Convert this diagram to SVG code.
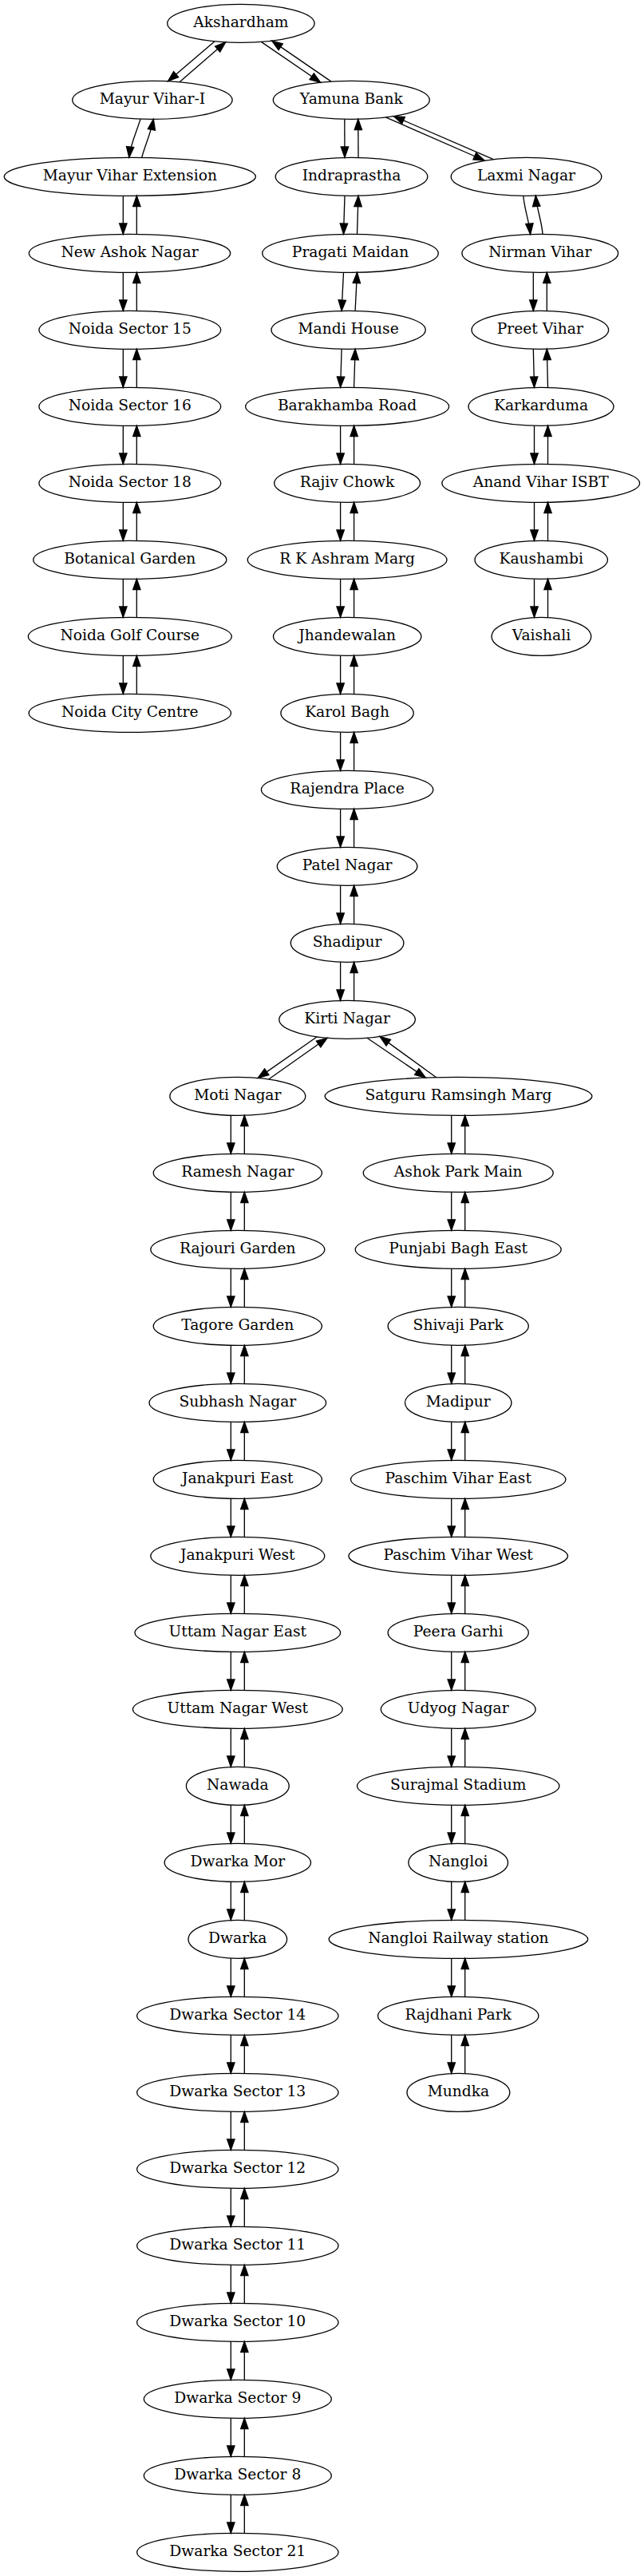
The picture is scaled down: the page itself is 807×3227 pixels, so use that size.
<svg xmlns="http://www.w3.org/2000/svg" width="807" height="3227" viewBox="0 0 807 3227">
<style>
ellipse{fill:none;stroke:#000;stroke-width:1.33}
text{font-family:"DejaVu Serif","Liberation Serif",serif;font-size:18.67px;text-anchor:middle;fill:#000}
.e{fill:none;stroke:#000;stroke-width:1.33;marker-end:url(#ah)}
</style>
<defs>
<marker id="ah" markerUnits="userSpaceOnUse" markerWidth="16" markerHeight="12" refX="13.33" refY="4.67" orient="auto" overflow="visible">
<path d="M0,0 L13.33,4.67 L0,9.33 Z" fill="#000" stroke="#000" stroke-width="1.33"/>
</marker>
</defs>
<rect width="807" height="3227" fill="#fff"/>
<g id="edges">
<path class="e" d="M269,51.7 L210.5,101.8"/>
<path class="e" d="M225,102.8 L282.7,52.8"/>
<path class="e" d="M327.3,52.4 L401.7,103.3"/>
<path class="e" d="M415,102.1 L340.7,51.1"/>
<path class="e" d="M483.3,146.9 L607,201"/>
<path class="e" d="M618.3,199.7 L493.3,145.5"/>
<path class="e" d="M176,149.1 C172,163 163.5,180 161.8,197.3"/>
<path class="e" d="M177.7,197.4 C181,184 189,167 192.3,149.3"/>
<path class="e" d="M655.8,245.3 C657,262 663,276 664.6,293.5"/>
<path class="e" d="M680,293.4 C679,277 672.5,262 671.3,245.1"/>
<path class="e" d="M154.3,245.33 L154.3,293.33"/><path class="e" d="M171.3,293.33 L171.3,245.33"/>
<path class="e" d="M154.3,341.33 L154.3,389.33"/><path class="e" d="M171.3,389.33 L171.3,341.33"/>
<path class="e" d="M154.3,437.33 L154.3,485.33"/><path class="e" d="M171.3,485.33 L171.3,437.33"/>
<path class="e" d="M154.3,533.33 L154.3,581.33"/><path class="e" d="M171.3,581.33 L171.3,533.33"/>
<path class="e" d="M154.3,629.33 L154.3,677.33"/><path class="e" d="M171.3,677.33 L171.3,629.33"/>
<path class="e" d="M154.3,725.33 L154.3,773.33"/><path class="e" d="M171.3,773.33 L171.3,725.33"/>
<path class="e" d="M154.3,821.33 L154.3,869.33"/><path class="e" d="M171.3,869.33 L171.3,821.33"/>
<path class="e" d="M431.8,149.33 L432,197.33"/><path class="e" d="M449,197.33 L448.8,149.33"/>
<path class="e" d="M432,245.33 L430.5,293.33"/><path class="e" d="M447.5,293.33 L449,245.33"/>
<path class="e" d="M430.5,341.33 L428.1,389.33"/><path class="e" d="M445.1,389.33 L447.5,341.33"/>
<path class="e" d="M428.1,437.33 L426.6,485.33"/><path class="e" d="M443.6,485.33 L445.1,437.33"/>
<path class="e" d="M426.6,533.33 L426.6,581.33"/><path class="e" d="M443.6,581.33 L443.6,533.33"/>
<path class="e" d="M426.6,629.33 L426.6,677.33"/><path class="e" d="M443.6,677.33 L443.6,629.33"/>
<path class="e" d="M426.6,725.33 L426.6,773.33"/><path class="e" d="M443.6,773.33 L443.6,725.33"/>
<path class="e" d="M426.6,821.33 L426.6,869.33"/><path class="e" d="M443.6,869.33 L443.6,821.33"/>
<path class="e" d="M426.6,917.33 L426.6,965.33"/><path class="e" d="M443.6,965.33 L443.6,917.33"/>
<path class="e" d="M426.6,1013.33 L426.6,1061.33"/><path class="e" d="M443.6,1061.33 L443.6,1013.33"/>
<path class="e" d="M426.6,1109.33 L426.6,1157.33"/><path class="e" d="M443.6,1157.33 L443.6,1109.33"/>
<path class="e" d="M426.6,1205.33 L426.6,1253.33"/><path class="e" d="M443.6,1253.33 L443.6,1205.33"/>
<path class="e" d="M668.3,341.33 L668.3,389.33"/><path class="e" d="M685.3,389.33 L685.3,341.33"/>
<path class="e" d="M668.3,437.33 L669.5,485.33"/><path class="e" d="M686.5,485.33 L685.3,437.33"/>
<path class="e" d="M669.5,533.33 L669.5,581.33"/><path class="e" d="M686.5,581.33 L686.5,533.33"/>
<path class="e" d="M669.5,629.33 L669.5,677.33"/><path class="e" d="M686.5,677.33 L686.5,629.33"/>
<path class="e" d="M669.5,725.33 L669.5,773.33"/><path class="e" d="M686.5,773.33 L686.5,725.33"/>
<path class="e" d="M397.3,1298.8 L323.3,1350.4"/>
<path class="e" d="M336.7,1352 L410,1300.3"/>
<path class="e" d="M460,1300.3 L533.3,1350.1"/>
<path class="e" d="M546.7,1349.7 L476,1298.4"/>
<path class="e" d="M289.3,1397.33 L289.3,1445.33"/><path class="e" d="M306.3,1445.33 L306.3,1397.33"/>
<path class="e" d="M289.3,1493.33 L289.3,1541.33"/><path class="e" d="M306.3,1541.33 L306.3,1493.33"/>
<path class="e" d="M289.3,1589.33 L289.3,1637.33"/><path class="e" d="M306.3,1637.33 L306.3,1589.33"/>
<path class="e" d="M289.3,1685.33 L289.3,1733.33"/><path class="e" d="M306.3,1733.33 L306.3,1685.33"/>
<path class="e" d="M289.3,1781.33 L289.3,1829.33"/><path class="e" d="M306.3,1829.33 L306.3,1781.33"/>
<path class="e" d="M289.3,1877.33 L289.3,1925.33"/><path class="e" d="M306.3,1925.33 L306.3,1877.33"/>
<path class="e" d="M289.3,1973.33 L289.3,2021.33"/><path class="e" d="M306.3,2021.33 L306.3,1973.33"/>
<path class="e" d="M289.3,2069.33 L289.3,2117.33"/><path class="e" d="M306.3,2117.33 L306.3,2069.33"/>
<path class="e" d="M289.3,2165.33 L289.3,2213.33"/><path class="e" d="M306.3,2213.33 L306.3,2165.33"/>
<path class="e" d="M289.3,2261.33 L289.3,2309.33"/><path class="e" d="M306.3,2309.33 L306.3,2261.33"/>
<path class="e" d="M289.3,2357.33 L289.3,2405.33"/><path class="e" d="M306.3,2405.33 L306.3,2357.33"/>
<path class="e" d="M289.3,2453.33 L289.3,2501.33"/><path class="e" d="M306.3,2501.33 L306.3,2453.33"/>
<path class="e" d="M289.3,2549.33 L289.3,2597.33"/><path class="e" d="M306.3,2597.33 L306.3,2549.33"/>
<path class="e" d="M289.3,2645.33 L289.3,2693.33"/><path class="e" d="M306.3,2693.33 L306.3,2645.33"/>
<path class="e" d="M289.3,2741.33 L289.3,2789.33"/><path class="e" d="M306.3,2789.33 L306.3,2741.33"/>
<path class="e" d="M289.3,2837.33 L289.3,2885.33"/><path class="e" d="M306.3,2885.33 L306.3,2837.33"/>
<path class="e" d="M289.3,2933.33 L289.3,2981.33"/><path class="e" d="M306.3,2981.33 L306.3,2933.33"/>
<path class="e" d="M289.3,3029.33 L289.3,3077.33"/><path class="e" d="M306.3,3077.33 L306.3,3029.33"/>
<path class="e" d="M289.3,3125.33 L289.3,3173.33"/><path class="e" d="M306.3,3173.33 L306.3,3125.33"/>
<path class="e" d="M565.7,1397.33 L565.7,1445.33"/><path class="e" d="M582.7,1445.33 L582.7,1397.33"/>
<path class="e" d="M565.7,1493.33 L565.7,1541.33"/><path class="e" d="M582.7,1541.33 L582.7,1493.33"/>
<path class="e" d="M565.7,1589.33 L565.7,1637.33"/><path class="e" d="M582.7,1637.33 L582.7,1589.33"/>
<path class="e" d="M565.7,1685.33 L565.7,1733.33"/><path class="e" d="M582.7,1733.33 L582.7,1685.33"/>
<path class="e" d="M565.7,1781.33 L565.7,1829.33"/><path class="e" d="M582.7,1829.33 L582.7,1781.33"/>
<path class="e" d="M565.7,1877.33 L565.7,1925.33"/><path class="e" d="M582.7,1925.33 L582.7,1877.33"/>
<path class="e" d="M565.7,1973.33 L565.7,2021.33"/><path class="e" d="M582.7,2021.33 L582.7,1973.33"/>
<path class="e" d="M565.7,2069.33 L565.7,2117.33"/><path class="e" d="M582.7,2117.33 L582.7,2069.33"/>
<path class="e" d="M565.7,2165.33 L565.7,2213.33"/><path class="e" d="M582.7,2213.33 L582.7,2165.33"/>
<path class="e" d="M565.7,2261.33 L565.7,2309.33"/><path class="e" d="M582.7,2309.33 L582.7,2261.33"/>
<path class="e" d="M565.7,2357.33 L565.7,2405.33"/><path class="e" d="M582.7,2405.33 L582.7,2357.33"/>
<path class="e" d="M565.7,2453.33 L565.7,2501.33"/><path class="e" d="M582.7,2501.33 L582.7,2453.33"/>
<path class="e" d="M565.7,2549.33 L565.7,2597.33"/><path class="e" d="M582.7,2597.33 L582.7,2549.33"/>
</g>
<g id="akshardham"><ellipse cx="301.9" cy="29.33" rx="92.2" ry="24"/><text x="301.9" y="34.33">Akshardham</text></g>
<g id="mayur-vihar-i"><ellipse cx="190.9" cy="125.33" rx="100.2" ry="24"/><text x="190.9" y="130.33">Mayur Vihar-I</text></g>
<g id="yamuna-bank"><ellipse cx="440.3" cy="125.33" rx="98" ry="24"/><text x="440.3" y="130.33">Yamuna Bank</text></g>
<g id="mayur-vihar-extension"><ellipse cx="162.8" cy="221.33" rx="157.6" ry="24"/><text x="162.8" y="226.33">Mayur Vihar Extension</text></g>
<g id="indraprastha"><ellipse cx="440.5" cy="221.33" rx="95.3" ry="24"/><text x="440.5" y="226.33">Indraprastha</text></g>
<g id="laxmi-nagar"><ellipse cx="659.5" cy="221.33" rx="94.3" ry="24"/><text x="659.5" y="226.33">Laxmi Nagar</text></g>
<g id="new-ashok-nagar"><ellipse cx="162.5" cy="317.33" rx="126.2" ry="24"/><text x="162.5" y="322.33">New Ashok Nagar</text></g>
<g id="pragati-maidan"><ellipse cx="439" cy="317.33" rx="110.3" ry="24"/><text x="439" y="322.33">Pragati Maidan</text></g>
<g id="nirman-vihar"><ellipse cx="676.8" cy="317.33" rx="97.9" ry="24"/><text x="676.8" y="322.33">Nirman Vihar</text></g>
<g id="noida-sector-15"><ellipse cx="162.8" cy="413.33" rx="113.9" ry="24"/><text x="162.8" y="418.33">Noida Sector 15</text></g>
<g id="mandi-house"><ellipse cx="436.6" cy="413.33" rx="96.6" ry="24"/><text x="436.6" y="418.33">Mandi House</text></g>
<g id="preet-vihar"><ellipse cx="676.8" cy="413.33" rx="85.8" ry="24"/><text x="676.8" y="418.33">Preet Vihar</text></g>
<g id="noida-sector-16"><ellipse cx="162.8" cy="509.33" rx="113.9" ry="24"/><text x="162.8" y="514.33">Noida Sector 16</text></g>
<g id="barakhamba-road"><ellipse cx="435.1" cy="509.33" rx="127.5" ry="24"/><text x="435.1" y="514.33">Barakhamba Road</text></g>
<g id="karkarduma"><ellipse cx="678" cy="509.33" rx="91" ry="24"/><text x="678" y="514.33">Karkarduma</text></g>
<g id="noida-sector-18"><ellipse cx="162.8" cy="605.33" rx="113.9" ry="24"/><text x="162.8" y="610.33">Noida Sector 18</text></g>
<g id="rajiv-chowk"><ellipse cx="435.1" cy="605.33" rx="91.4" ry="24"/><text x="435.1" y="610.33">Rajiv Chowk</text></g>
<g id="anand-vihar-isbt"><ellipse cx="677.7" cy="605.33" rx="123.9" ry="24"/><text x="677.7" y="610.33">Anand Vihar ISBT</text></g>
<g id="botanical-garden"><ellipse cx="162.8" cy="701.33" rx="121.1" ry="24"/><text x="162.8" y="706.33">Botanical Garden</text></g>
<g id="rk-ashram-marg"><ellipse cx="435.1" cy="701.33" rx="124.9" ry="24"/><text x="435.1" y="706.33">R K Ashram Marg</text></g>
<g id="kaushambi"><ellipse cx="678.2" cy="701.33" rx="83.2" ry="24"/><text x="678.2" y="706.33">Kaushambi</text></g>
<g id="noida-golf-course"><ellipse cx="162.8" cy="797.33" rx="127.5" ry="24"/><text x="162.8" y="802.33">Noida Golf Course</text></g>
<g id="jhandewalan"><ellipse cx="435.2" cy="797.33" rx="92.7" ry="24"/><text x="435.2" y="802.33">Jhandewalan</text></g>
<g id="vaishali"><ellipse cx="678.4" cy="797.33" rx="62.3" ry="24"/><text x="678.4" y="802.33">Vaishali</text></g>
<g id="noida-city-centre"><ellipse cx="162.8" cy="893.33" rx="126.7" ry="24"/><text x="162.8" y="898.33">Noida City Centre</text></g>
<g id="karol-bagh"><ellipse cx="435.1" cy="893.33" rx="83.2" ry="24"/><text x="435.1" y="898.33">Karol Bagh</text></g>
<g id="rajendra-place"><ellipse cx="435.1" cy="989.33" rx="107.7" ry="24"/><text x="435.1" y="994.33">Rajendra Place</text></g>
<g id="patel-nagar"><ellipse cx="435.1" cy="1085.33" rx="87.8" ry="24"/><text x="435.1" y="1090.33">Patel Nagar</text></g>
<g id="shadipur"><ellipse cx="435.1" cy="1181.33" rx="70.8" ry="24"/><text x="435.1" y="1186.33">Shadipur</text></g>
<g id="kirti-nagar"><ellipse cx="435.1" cy="1277.33" rx="85.3" ry="24"/><text x="435.1" y="1282.33">Kirti Nagar</text></g>
<g id="moti-nagar"><ellipse cx="297.8" cy="1373.33" rx="85" ry="24"/><text x="297.8" y="1378.33">Moti Nagar</text></g>
<g id="satguru-ramsingh-marg"><ellipse cx="574.5" cy="1373.33" rx="167.4" ry="24"/><text x="574.5" y="1378.33">Satguru Ramsingh Marg</text></g>
<g id="ramesh-nagar"><ellipse cx="297.8" cy="1469.33" rx="105.6" ry="24"/><text x="297.8" y="1474.33">Ramesh Nagar</text></g>
<g id="ashok-park-main"><ellipse cx="574.2" cy="1469.33" rx="119" ry="24"/><text x="574.2" y="1474.33">Ashok Park Main</text></g>
<g id="rajouri-garden"><ellipse cx="297.8" cy="1565.33" rx="109" ry="24"/><text x="297.8" y="1570.33">Rajouri Garden</text></g>
<g id="punjabi-bagh-east"><ellipse cx="574.2" cy="1565.33" rx="129" ry="24"/><text x="574.2" y="1570.33">Punjabi Bagh East</text></g>
<g id="tagore-garden"><ellipse cx="297.8" cy="1661.33" rx="105.6" ry="24"/><text x="297.8" y="1666.33">Tagore Garden</text></g>
<g id="shivaji-park"><ellipse cx="574.2" cy="1661.33" rx="88.1" ry="24"/><text x="574.2" y="1666.33">Shivaji Park</text></g>
<g id="subhash-nagar"><ellipse cx="297.8" cy="1757.33" rx="110.8" ry="24"/><text x="297.8" y="1762.33">Subhash Nagar</text></g>
<g id="madipur"><ellipse cx="574.2" cy="1757.33" rx="66.7" ry="24"/><text x="574.2" y="1762.33">Madipur</text></g>
<g id="janakpuri-east"><ellipse cx="297.8" cy="1853.33" rx="105.6" ry="24"/><text x="297.8" y="1858.33">Janakpuri East</text></g>
<g id="paschim-vihar-east"><ellipse cx="574.2" cy="1853.33" rx="134.7" ry="24"/><text x="574.2" y="1858.33">Paschim Vihar East</text></g>
<g id="janakpuri-west"><ellipse cx="297.8" cy="1949.33" rx="109" ry="24"/><text x="297.8" y="1954.33">Janakpuri West</text></g>
<g id="paschim-vihar-west"><ellipse cx="574.2" cy="1949.33" rx="137.3" ry="24"/><text x="574.2" y="1954.33">Paschim Vihar West</text></g>
<g id="uttam-nagar-east"><ellipse cx="297.8" cy="2045.33" rx="128.8" ry="24"/><text x="297.8" y="2050.33">Uttam Nagar East</text></g>
<g id="peera-garhi"><ellipse cx="574.2" cy="2045.33" rx="88.1" ry="24"/><text x="574.2" y="2050.33">Peera Garhi</text></g>
<g id="uttam-nagar-west"><ellipse cx="297.8" cy="2141.33" rx="131.4" ry="24"/><text x="297.8" y="2146.33">Uttam Nagar West</text></g>
<g id="udyog-nagar"><ellipse cx="574.2" cy="2141.33" rx="96.9" ry="24"/><text x="574.2" y="2146.33">Udyog Nagar</text></g>
<g id="nawada"><ellipse cx="297.8" cy="2237.33" rx="64.4" ry="24"/><text x="297.8" y="2242.33">Nawada</text></g>
<g id="surajmal-stadium"><ellipse cx="574.2" cy="2237.33" rx="126.7" ry="24"/><text x="574.2" y="2242.33">Surajmal Stadium</text></g>
<g id="dwarka-mor"><ellipse cx="297.8" cy="2333.33" rx="91.7" ry="24"/><text x="297.8" y="2338.33">Dwarka Mor</text></g>
<g id="nangloi"><ellipse cx="574.2" cy="2333.33" rx="62.3" ry="24"/><text x="574.2" y="2338.33">Nangloi</text></g>
<g id="dwarka"><ellipse cx="297.8" cy="2429.33" rx="61.8" ry="24"/><text x="297.8" y="2434.33">Dwarka</text></g>
<g id="nangloi-railway-station"><ellipse cx="574.4" cy="2429.33" rx="162.3" ry="24"/><text x="574.4" y="2434.33">Nangloi Railway station</text></g>
<g id="dwarka-sector-14"><ellipse cx="297.8" cy="2525.33" rx="126.2" ry="24"/><text x="297.8" y="2530.33">Dwarka Sector 14</text></g>
<g id="rajdhani-park"><ellipse cx="574.2" cy="2525.33" rx="100.7" ry="24"/><text x="574.2" y="2530.33">Rajdhani Park</text></g>
<g id="dwarka-sector-13"><ellipse cx="297.8" cy="2621.33" rx="126.2" ry="24"/><text x="297.8" y="2626.33">Dwarka Sector 13</text></g>
<g id="mundka"><ellipse cx="574.4" cy="2621.33" rx="64.4" ry="24"/><text x="574.4" y="2626.33">Mundka</text></g>
<g id="dwarka-sector-12"><ellipse cx="297.8" cy="2717.33" rx="126.2" ry="24"/><text x="297.8" y="2722.33">Dwarka Sector 12</text></g>
<g id="dwarka-sector-11"><ellipse cx="297.8" cy="2813.33" rx="126.2" ry="24"/><text x="297.8" y="2818.33">Dwarka Sector 11</text></g>
<g id="dwarka-sector-10"><ellipse cx="297.8" cy="2909.33" rx="126.2" ry="24"/><text x="297.8" y="2914.33">Dwarka Sector 10</text></g>
<g id="dwarka-sector-9"><ellipse cx="297.8" cy="3005.33" rx="117.5" ry="24"/><text x="297.8" y="3010.33">Dwarka Sector 9</text></g>
<g id="dwarka-sector-8"><ellipse cx="297.8" cy="3101.33" rx="117.5" ry="24"/><text x="297.8" y="3106.33">Dwarka Sector 8</text></g>
<g id="dwarka-sector-21"><ellipse cx="297.8" cy="3197.33" rx="126.2" ry="24"/><text x="297.8" y="3202.33">Dwarka Sector 21</text></g>
</svg>
